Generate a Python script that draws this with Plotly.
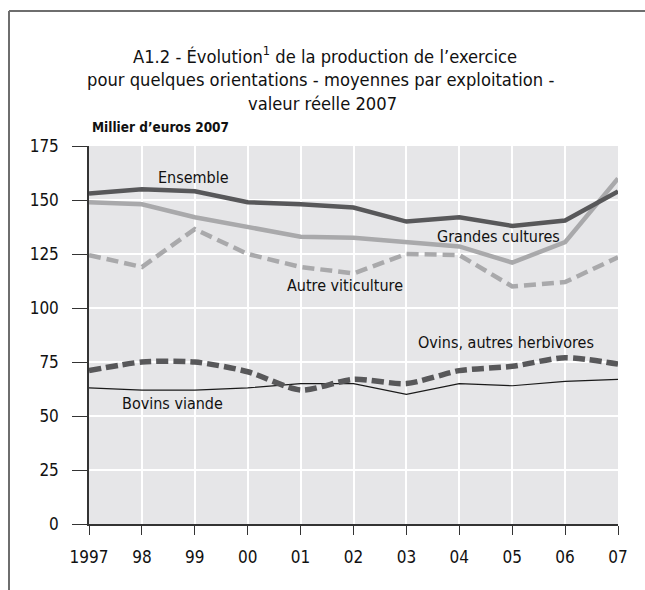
import plotly.graph_objects as go

years = ["1997", "98", "99", "00", "01", "02", "03", "04", "05", "06", "07"]
ensemble = [153, 155, 154, 149, 148, 146.5, 140, 142, 138, 140.5, 154]
grandes_cultures = [149, 148, 142, 137.5, 133, 132.5, 130.5, 128.5, 121, 130.5, 160]
autre_viticulture = [124.5, 119, 136.5, 125, 119, 116, 125, 124.5, 110, 112, 123.5]
ovins = [71, 75, 75, 70.5, 62, 67, 65, 71, 73, 77, 74]
bovins = [63, 62, 62, 63, 65, 65, 60, 65, 64, 66, 67]

title_lines = [
    "A1.2 - Évolution<sup>1</sup> de la production de l’exercice",
    "pour quelques orientations - moyennes par exploitation -",
    "valeur réelle 2007",
]
y_unit = "Millier d’euros 2007"

FONT = "DejaVu Sans Condensed, Liberation Sans Narrow, sans-serif"
x = list(range(len(years)))

fig = go.Figure()
fig.add_trace(go.Scatter(x=x, y=bovins, mode="lines", line=dict(color="#1a1a1a", width=1.2)))
fig.add_trace(go.Scatter(x=x, y=autre_viticulture, mode="lines", line=dict(color="#a9a9ab", width=4.5, dash="12px,6px")))
fig.add_trace(go.Scatter(x=x, y=grandes_cultures, mode="lines", line=dict(color="#a9a9ab", width=4.5)))
fig.add_trace(go.Scatter(x=x, y=ensemble, mode="lines", line=dict(color="#58585a", width=4.5)))
fig.add_trace(go.Scatter(x=x, y=ovins, mode="lines", line=dict(color="#58585a", width=5.5, dash="12px,5px", shape="spline", smoothing=0.7)))

ann = [
    dict(x=1.97, y=160.6, text="Ensemble"),
    dict(x=7.75, y=132.9, text="Grandes cultures"),
    dict(x=4.84, y=110.6, text="Autre viticulture"),
    dict(x=7.88, y=83.8, text="Ovins, autres herbivores"),
    dict(x=1.57, y=56, text="Bovins viande"),
]
annotations = [dict(x=a["x"], y=a["y"], text=a["text"], xref="x", yref="y", showarrow=False,
                    font=dict(family=FONT, size=16, color="#111")) for a in ann]
for line, py, cx in zip(title_lines, [55, 79.5, 103], [325, 320, 322]):
    annotations.append(dict(x=(cx - 89) / 529, y=(524 - py) / 378, xref="paper", yref="paper", showarrow=False,
                            text=line, font=dict(family=FONT, size=18.2, color="#111"),
                            xanchor="center", yanchor="middle"))
annotations.append(dict(x=(90 - 89) / 529, y=(524 - 127) / 378, xref="paper", yref="paper", showarrow=False,
                        xanchor="left", yanchor="middle",
                        text="<b>" + y_unit + "</b>", font=dict(family=FONT, size=13.5, color="#111")))

fig.update_layout(
    width=645, height=590,
    margin=dict(l=89, r=27, t=146, b=66),
    paper_bgcolor="white", plot_bgcolor="#e6e6e8",
    showlegend=False,
    annotations=annotations,
    shapes=[
        dict(type="line", xref="paper", yref="paper", x0=(9 - 89) / 529, x1=(9 - 89) / 529,
             y0=(524 - 11) / 378, y1=(524 - 600) / 378, line=dict(color="#6e6e6e", width=2)),
        dict(type="line", xref="paper", yref="paper", x0=(9 - 89) / 529, x1=(660 - 89) / 529,
             y0=(524 - 11) / 378, y1=(524 - 11) / 378, line=dict(color="#6e6e6e", width=2)),
    ],
)
fig.update_xaxes(range=[0, 10], tickmode="array", tickvals=x, ticktext=years,
                 showgrid=True, gridcolor="white", gridwidth=1.5,
                 showline=True, linecolor="#333", linewidth=1.5,
                 ticks="outside", ticklen=9, tickcolor="#333", zeroline=False,
                 ticklabelstandoff=8,
                 tickfont=dict(family=FONT, size=17, color="#111"))
fig.update_yaxes(range=[0, 175], tickvals=[0, 25, 50, 75, 100, 125, 150, 175],
                 showgrid=True, gridcolor="white", gridwidth=1.5,
                 showline=True, linecolor="#333", linewidth=1.5,
                 ticks="outside", ticklen=15, tickcolor="#333", zeroline=False,
                 ticklabelstandoff=10,
                 tickfont=dict(family=FONT, size=17, color="#111"))

fig.write_html("out.html", config={"displayModeBar": False},
               post_script="document.body.style.margin='0';document.body.style.overflow='hidden';")
